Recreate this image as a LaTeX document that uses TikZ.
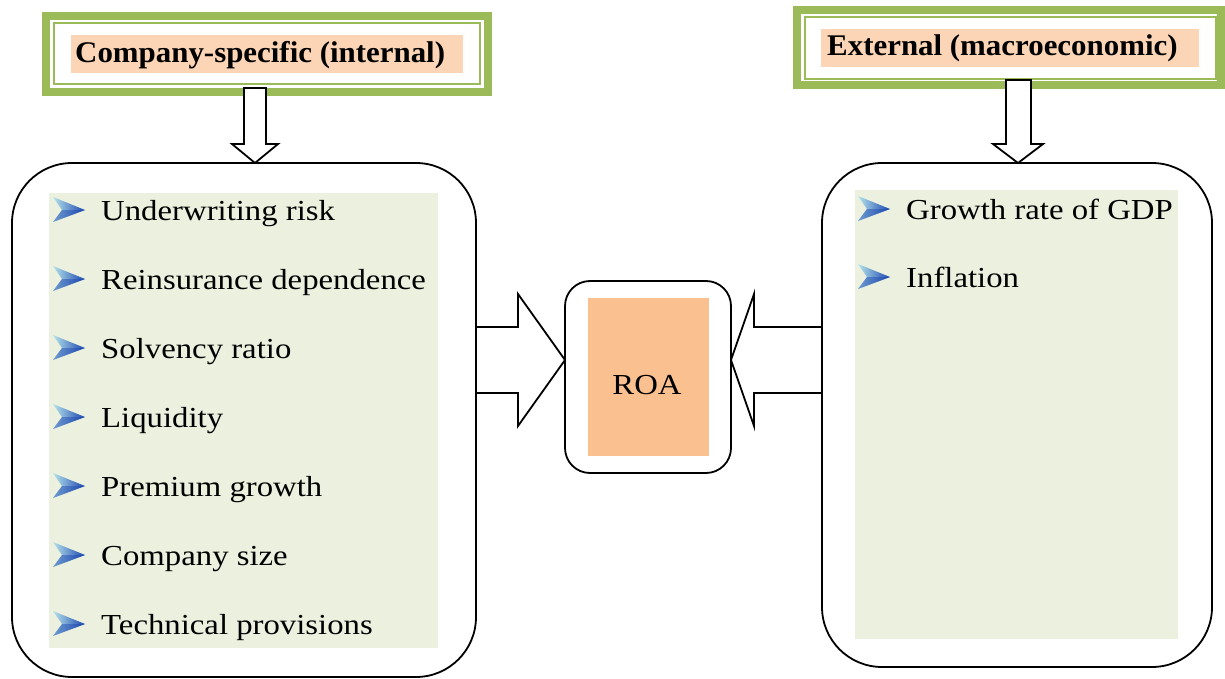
\documentclass[tikz,border=0pt]{standalone}
\usepackage{fontspec}
\usetikzlibrary{calc}
\newfontfamily\itemfont[FakeStretch=1.13]{Liberation Serif}
\newfontfamily\headfont[FakeStretch=1.03]{Liberation Serif}
\definecolor{hgreen}{HTML}{9BBB59}
\definecolor{lgreen}{HTML}{EBF1DE}
\definecolor{peach}{HTML}{FBD5B5}
\definecolor{roaorange}{HTML}{FAC090}
\definecolor{bulletdark}{HTML}{1A45B0}
\definecolor{bulletlight}{HTML}{B5E3EA}
\tikzset{
  hdrbox/.style={draw=hgreen, line width=8pt, fill=white, inner sep=0pt, outer sep=0pt},
  hdrthin/.style={draw=hgreen, line width=2pt},
  headtxt/.style={inner sep=0pt, font=\headfont\bfseries\fontsize{30}{30}\selectfont},
  itemtxt/.style={inner sep=0pt, font=\itemfont\fontsize{29}{29}\selectfont},
  bigbox/.style={draw=black, line width=1.8pt, rounded corners=60pt, fill=white, inner sep=0pt, outer sep=0pt},
  roabox/.style={draw=black, line width=1.8pt, rounded corners=25pt, fill=white, inner sep=0pt, outer sep=0pt},
  blockarr/.style={draw=black, line width=1.8pt, fill=white, line join=miter},
  chevron/.style={left color=bulletlight, right color=bulletdark, draw=none}
}
\newcommand{\chev}[2]{%
  \shade[chevron] (#1,#2-13) -- (#1+32,#2) -- (#1,#2+12) -- (#1+9,#2) -- cycle;
  \fill[bulletdark, opacity=0.45] (#1+9,#2) -- (#1+32,#2) -- (#1,#2+12) -- cycle;}
\begin{document}
\begin{tikzpicture}[x=1pt,y=-1pt]
\useasboundingbox (0,0) rectangle (1225,679);
% big boxes
\node[bigbox, minimum width=464pt, minimum height=514pt] (b1) at (244,420) {};
\node[bigbox, minimum width=390pt, minimum height=504pt] (b2) at (1017,415) {};
\fill[lgreen] (49,193) rectangle (438,648);
\fill[lgreen] (855,190) rectangle (1178,639);
% headers
\node[hdrbox, minimum width=442pt, minimum height=76pt] (h1) at (267,54) {};
\draw[hdrthin] ($(h1.north west)+(8,7)$) rectangle ($(h1.south east)+(-8,-8)$);
\fill[peach] (71,35) rectangle (463,73);
\node[headtxt, anchor=base west] (t1) at (75,63) {Company-specific (internal)};
\node[hdrbox, minimum width=424pt, minimum height=75.5pt] (h2) at (1009,47.75) {};
\draw[hdrthin] ($(h2.north west)+(8,7)$) rectangle ($(h2.south east)+(-5,-6.5)$);
\fill[peach] (821,29) rectangle (1199,67);
\node[headtxt, anchor=base west] (t2) at (827,56) {External (macroeconomic)};
% ROA
\node[roabox, minimum width=166pt, minimum height=192pt] (roa) at (648,377) {};
\node[fill=roaorange, inner sep=0pt, minimum width=121pt, minimum height=158pt] (roain) at (648.5,377) {};
\node[itemtxt, anchor=base] (roatxt) at (647,394) {ROA};
% down arrows
\coordinate (a1) at ($(b1.north west)+(243,0)$);
\draw[blockarr] (a1) -- ++(-23,-19) -- ++(12,0) -- ++(0,-56) -- ++(22,0) -- ++(0,56) -- ++(12,0) -- cycle;
\coordinate (a2) at ($(b2.north west)+(196,0)$);
\draw[blockarr] (a2) -- ++(-25,-19) -- ++(13,0) -- ++(0,-64) -- ++(25,0) -- ++(0,64) -- ++(12,0) -- cycle;
% horizontal arrows
\coordinate (a3) at ($(roa.west)+(0,-17)$);
\draw[blockarr] (a3) -- ++(-47,-66) -- ++(0,33) -- ($(b1.east)+(0,-93)$) -- ($(b1.east)+(0,-27)$) -- ++(42,0) -- ++(0,33) -- cycle;
\coordinate (a4) at ($(roa.east)+(0,-17)$);
\draw[blockarr] (a4) -- ++(23,-66) -- ++(0,33) -- ($(b2.west)+(0,-88)$) -- ($(b2.west)+(0,-22)$) -- ++(-68,0) -- ++(0,33) -- cycle;
% left items
\foreach \yy/\txt/\nm in {220/Underwriting risk/l1, 289/Reinsurance dependence/l2, 358/Solvency ratio/l3, 427/Liquidity/l4, 496/Premium growth/l5, 565/Company size/l6, 634/Technical provisions/l7}{
  \chev{53}{\yy-10}
  \node[itemtxt, anchor=base west] (\nm) at (101,\yy) {\txt};
}
% right items
\foreach \yy/\txt/\nm in {219/Growth rate of GDP/r1, 287/Inflation/r2}{
  \chev{858}{\yy-10}
  \node[itemtxt, anchor=base west] (\nm) at (906,\yy) {\txt};
}
\end{tikzpicture}
\end{document}
